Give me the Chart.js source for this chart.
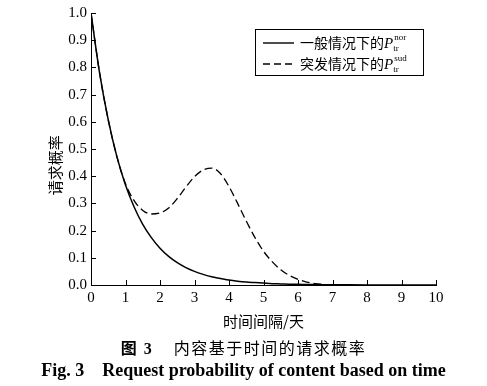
<!DOCTYPE html>
<html>
<head>
<meta charset="utf-8">
<script src="https://cdn.jsdelivr.net/npm/chart.js@4.4.0/dist/chart.umd.min.js"></script>
<style>
  html, body { margin: 0; padding: 0; background: #fff; }
  #wrap { position: relative; width: 487px; height: 386px; }
  #wrap canvas { position: absolute; left: 0; top: 0; }
  .cap { position: absolute; left: 0; width: 487px; text-align: center; color: #000; white-space: pre; }
  #cap1 { top: 335px; font: 16px "Noto Sans CJK SC"; letter-spacing: 1.5px; }
  #cap1 b { font-family: "Liberation Serif", "Noto Sans CJK SC"; }
  #cap2 { top: 360px; font: bold 18px "Liberation Serif"; }
</style>
</head>
<body>
<div id="wrap">
  <canvas id="probChart" width="487" height="386"></canvas>
  <div class="cap" id="cap1"><b>图 3</b>    内容基于时间的请求概率</div>
  <div class="cap" id="cap2">Fig. 3    Request probability of content based on time</div>
</div>
<script>
// time interval in days (x values)
const timeDays = [0, 0.25, 0.5, 0.75, 1, 1.25, 1.5, 1.75, 2, 2.25, 2.5, 2.75, 3, 3.25, 3.5,
  3.75, 4, 4.25, 4.5, 4.75, 5, 5.25, 5.5, 5.75, 6, 6.25, 6.5, 6.75, 7, 8, 9, 10];

// normal request probability (solid)
const normalProb = [1.0, 0.779, 0.607, 0.472, 0.368, 0.287, 0.223, 0.174, 0.135, 0.105, 0.082,
  0.064, 0.050, 0.039, 0.030, 0.024, 0.018, 0.014, 0.011, 0.009, 0.007, 0.005, 0.004, 0.003,
  0.0025, 0.002, 0.0015, 0.001, 0.001, 0, 0, 0];

// sudden-event request probability (dashed)
const suddenProb = [1.0, 0.779, 0.607, 0.472, 0.372, 0.31, 0.274, 0.261, 0.265, 0.283, 0.318,
  0.36, 0.398, 0.423, 0.43, 0.41, 0.362, 0.30, 0.235, 0.175, 0.124, 0.086, 0.056, 0.035,
  0.021, 0.011, 0.005, 0.002, 0, null, null, null];

const xTicks = [0, 1, 2, 3, 4, 5, 6, 7, 8, 9, 10];
const yTicks = [0, 0.1, 0.2, 0.3, 0.4, 0.5, 0.6, 0.7, 0.8, 0.9, 1.0];

const legendRows = [
  { text: "一般情况下的", sup: "nor", dash: [] },
  { text: "突发情况下的", sup: "sud", dash: [7, 4] }
];

const toPoints = vals => timeDays.map((t, i) => ({ x: t, y: vals[i] }));

const serif = "'Liberation Serif', 'Times New Roman', serif";
const cjk = "'Noto Sans CJK SC', sans-serif";

// inward ticks, rotated y title, boxed legend with sub/superscripts
const decorPlugin = {
  id: "decor",
  afterDraw(chart) {
    const ctx = chart.ctx;
    const a = chart.chartArea;
    const sx = chart.scales.x, sy = chart.scales.y;
    ctx.save();
    ctx.strokeStyle = "#000";
    ctx.lineWidth = 1;
    ctx.setLineDash([]);
    ctx.beginPath();
    xTicks.forEach(v => {
      const px = Math.round(sx.getPixelForValue(v)) + 0.5;
      ctx.moveTo(px, a.bottom);
      ctx.lineTo(px, a.bottom - 5);
    });
    yTicks.forEach(v => {
      const py = Math.round(sy.getPixelForValue(v)) + 0.5;
      ctx.moveTo(a.left, py);
      ctx.lineTo(a.left + 5, py);
    });
    ctx.stroke();

    // y axis title
    ctx.fillStyle = "#000";
    ctx.font = "15px " + cjk;
    ctx.textAlign = "center";
    ctx.textBaseline = "middle";
    ctx.translate(a.left - 36, a.top + (a.bottom - a.top) * 0.56);
    ctx.rotate(-Math.PI / 2);
    ctx.fillText("请求概率", 0, 0);
    ctx.restore();

    // legend box
    ctx.save();
    const bx = a.left + 164, by = a.top + 16, bw = 168, bh = 46;
    ctx.strokeStyle = "#000";
    ctx.lineWidth = 1;
    ctx.strokeRect(Math.round(bx) + 0.5, Math.round(by) + 0.5, bw, bh);
    legendRows.forEach((row, i) => {
      const ry = by + 14 + i * 21;
      ctx.beginPath();
      ctx.setLineDash(row.dash);
      ctx.lineWidth = 1.4;
      ctx.moveTo(bx + 8, ry);
      ctx.lineTo(bx + 39, ry);
      ctx.stroke();
      ctx.setLineDash([]);
      ctx.fillStyle = "#000";
      ctx.textAlign = "left";
      ctx.textBaseline = "middle";
      let tx = bx + 45;
      ctx.font = "14px " + cjk;
      ctx.fillText(row.text, tx, ry);
      tx += ctx.measureText(row.text).width;
      ctx.font = "italic 15px " + serif;
      ctx.fillText("P", tx, ry + 1);
      tx += ctx.measureText("P").width;
      ctx.font = "9px " + serif;
      ctx.fillText("tr", tx, ry + 6);
      ctx.fillText(row.sup, tx + 1, ry - 5);
    });
    ctx.restore();
  }
};

new Chart(document.getElementById("probChart"), {
  type: "line",
  data: {
    datasets: [
      {
        label: "一般情况下的Ptr nor",
        data: toPoints(normalProb),
        borderColor: "#000",
        borderWidth: 1.5,
        pointRadius: 0,
        cubicInterpolationMode: "monotone",
        fill: false
      },
      {
        label: "突发情况下的Ptr sud",
        data: toPoints(suddenProb),
        borderColor: "#000",
        borderWidth: 1.3,
        borderDash: [8, 4],
        pointRadius: 0,
        cubicInterpolationMode: "monotone",
        spanGaps: false,
        fill: false
      }
    ]
  },
  options: {
    responsive: false,
    animation: false,
    layout: { padding: { left: 0, right: 51, top: 12, bottom: 56 } },
    plugins: { legend: { display: false }, tooltip: { enabled: false } },
    scales: {
      x: {
        type: "linear",
        min: 0,
        max: 10,
        afterBuildTicks: s => { s.ticks = xTicks.map(v => ({ value: v })); },
        grid: { display: false, drawTicks: false },
        border: { display: true, color: "#000", width: 1 },
        ticks: {
          color: "#000",
          padding: 4,
          maxRotation: 0,
          font: { family: serif, size: 15 },
          callback: v => String(v)
        },
        title: {
          display: true,
          text: "时间间隔/天",
          color: "#000",
          font: { family: cjk, size: 15 },
          padding: { top: 1, bottom: 0 }
        }
      },
      y: {
        min: 0,
        max: 1,
        afterBuildTicks: s => { s.ticks = yTicks.map(v => ({ value: v })); },
        afterFit: s => { s.width = 91; },
        grid: { display: false, drawTicks: false },
        border: { display: true, color: "#000", width: 1 },
        ticks: {
          color: "#000",
          padding: 4,
          font: { family: serif, size: 15 },
          callback: v => Number(v).toFixed(1)
        }
      }
    }
  },
  plugins: [decorPlugin]
});
</script>
</body>
</html>
